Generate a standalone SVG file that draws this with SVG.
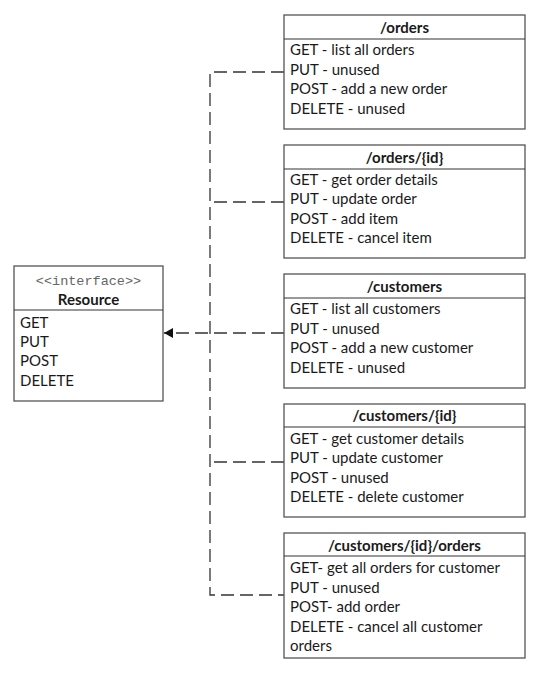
<svg xmlns="http://www.w3.org/2000/svg" width="539" height="678" viewBox="0 0 539 678">
<style>
.box{fill:#fff;stroke:#555;stroke-width:1.3}
.ln{stroke:#333;stroke-width:1}
.t{font-family:Lato,"Open Sans",sans-serif;font-size:15px;fill:#1a1a1a}
.h{font-family:Lato,"Open Sans",sans-serif;font-size:15px;font-weight:bold;fill:#1a1a1a;text-anchor:middle}
.m{font-family:"Liberation Mono","DejaVu Sans Mono",monospace;font-size:13.5px;fill:#666;text-anchor:middle}
.c{fill:none;stroke:#333;stroke-width:1.3;stroke-dasharray:13 6}
</style>
<defs>
<marker id="arr" viewBox="0 0 10 10" refX="10" refY="5" markerWidth="9" markerHeight="10" markerUnits="userSpaceOnUse" orient="auto" preserveAspectRatio="none">
<path d="M0,0 L10,5 L0,10 Z" fill="#111"/>
</marker>
</defs>
<g id="connectors">
<path class="c" d="M284,72 H210 V595 H284"/>
<path class="c" d="M284,202 H210"/>
<path class="c" d="M284,462 H210"/>
<path class="c" d="M284,333 H164" marker-end="url(#arr)"/>
</g>
<g id="resource">
<rect class="box" x="14" y="266" width="149" height="135"/>
<line class="ln" x1="14" y1="310" x2="163" y2="310"/>
<text class="m" x="88.5" y="285">&lt;&lt;interface&gt;&gt;</text>
<text class="h" x="88.5" y="305">Resource</text>
<text class="t" x="20" y="328">GET</text>
<text class="t" x="20" y="347">PUT</text>
<text class="t" x="20" y="366">POST</text>
<text class="t" x="20" y="386">DELETE</text>
</g>
<g id="orders">
<rect class="box" x="284" y="15" width="241" height="114"/>
<line class="ln" x1="284" y1="39" x2="525" y2="39"/>
<text class="h" x="404.5" y="33">/orders</text>
<text class="t" x="290" y="55">GET - list all orders</text>
<text class="t" x="290" y="75">PUT - unused</text>
<text class="t" x="290" y="94">POST - add a new order</text>
<text class="t" x="290" y="114">DELETE - unused</text>
</g>
<g id="orders-id">
<rect class="box" x="284" y="145" width="241" height="113"/>
<line class="ln" x1="284" y1="169" x2="525" y2="169"/>
<text class="h" x="404.5" y="163">/orders/{id}</text>
<text class="t" x="290" y="185">GET - get order details</text>
<text class="t" x="290" y="204">PUT - update order</text>
<text class="t" x="290" y="224">POST - add item</text>
<text class="t" x="290" y="243">DELETE - cancel item</text>
</g>
<g id="customers">
<rect class="box" x="284" y="274" width="241" height="114"/>
<line class="ln" x1="284" y1="298" x2="525" y2="298"/>
<text class="h" x="404.5" y="292">/customers</text>
<text class="t" x="290" y="314">GET - list all customers</text>
<text class="t" x="290" y="334">PUT - unused</text>
<text class="t" x="290" y="353">POST - add a new customer</text>
<text class="t" x="290" y="373">DELETE - unused</text>
</g>
<g id="customers-id">
<rect class="box" x="284" y="404" width="241" height="113"/>
<line class="ln" x1="284" y1="427" x2="525" y2="427"/>
<text class="h" x="404.5" y="421">/customers/{id}</text>
<text class="t" x="290" y="444">GET - get customer details</text>
<text class="t" x="290" y="463">PUT - update customer</text>
<text class="t" x="290" y="483">POST - unused</text>
<text class="t" x="290" y="502">DELETE - delete customer</text>
</g>
<g id="customers-id-orders">
<rect class="box" x="284" y="533" width="241" height="125"/>
<line class="ln" x1="284" y1="556" x2="525" y2="556"/>
<text class="h" x="404.5" y="551">/customers/{id}/orders</text>
<text class="t" x="290" y="573">GET- get all orders for customer</text>
<text class="t" x="290" y="593">PUT - unused</text>
<text class="t" x="290" y="612">POST- add order</text>
<text class="t" x="290" y="632">DELETE - cancel all customer</text>
<text class="t" x="290" y="651">orders</text>
</g>
</svg>
